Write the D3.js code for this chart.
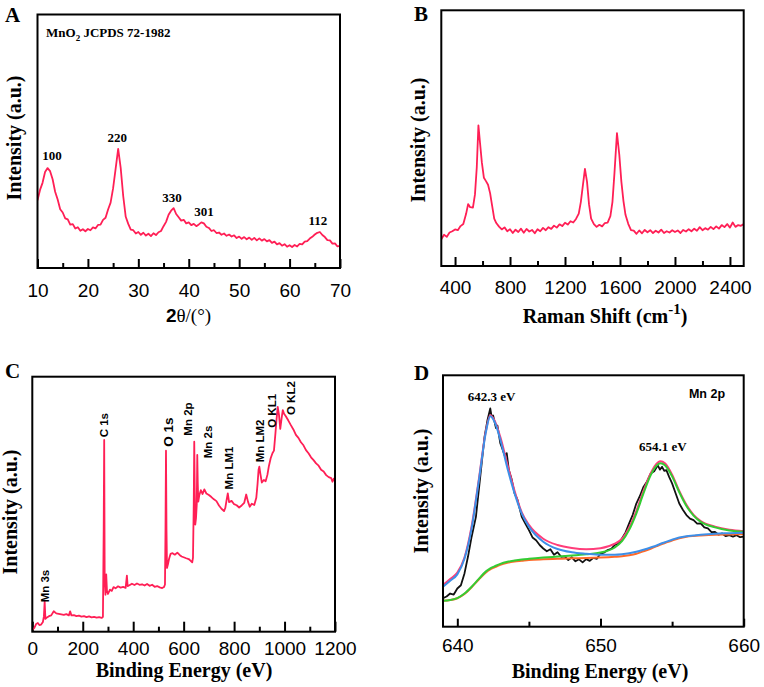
<!DOCTYPE html>
<html><head><meta charset="utf-8">
<script src="https://cdn.jsdelivr.net/npm/d3@7"></script>
<style>body{margin:0;background:#fff}svg{display:block}</style>
</head><body><svg id="c" width="764" height="687"></svg>
<script>
// ---------- Panel A: XRD ----------
const xrdAngle = [10,10.5,11,11.5,12,12.5,13,13.5,14,14.5,15,15.5,16,16.5,17,17.5,18,18.5,19,19.5,20,20.5,21,21.5,22,22.5,23,23.5,24,24.5,25,25.5,26,26.5,27,27.5,28,28.5,29,29.5,30,30.5,31,31.5,32,32.5,33,33.5,34,34.5,35,35.5,36,36.5,37,37.5,38,38.5,39,39.5,40,40.5,41,41.5,42,42.5,43,43.5,44,44.5,45,45.5,46,46.5,47,47.5,48,48.5,49,49.5,50,50.5,51,51.5,52,52.5,53,53.5,54,54.5,55,55.5,56,56.5,57,57.5,58,58.5,59,59.5,60,60.5,61,61.5,62,62.5,63,63.5,64,64.5,65,65.5,66,66.5,67,67.5,68,68.5,69,69.5,70];
const xrdIntensity = [26.7,30.8,33.6,37.9,39.4,38.2,35.0,30.1,27.0,23.2,21.9,19.6,19.2,17.1,17.3,15.6,16.1,14.7,15.3,14.5,15.4,14.9,16.0,15.6,17.0,17.1,19.0,19.8,23.1,25.8,31.5,39.2,47.0,39.5,28.4,20.2,17.4,15.1,14.9,13.6,14.2,13.1,13.9,12.8,13.5,12.6,13.7,13.0,14.1,14.6,16.5,18.2,21.0,22.6,23.6,21.3,20.0,18.7,19.0,17.6,18.0,16.9,17.4,16.5,17.2,18.0,17.6,16.3,15.8,14.6,14.9,13.8,14.0,13.1,13.6,12.7,13.2,12.4,12.9,11.8,12.4,11.5,12.2,11.3,12.0,11.1,11.9,10.9,11.7,10.8,11.4,10.5,11.0,9.9,10.4,9.3,9.8,8.8,9.4,8.4,9.0,8.3,9.1,8.5,9.5,9.3,10.4,10.6,11.6,12.3,13.2,13.9,14.2,13.0,12.2,11.0,10.9,9.6,9.7,8.5,8.7];
const xrdPeakNames = ["100","220","330","301","112"];
const xrdPeakAngle = [12.9,25.8,36.7,43.0,65.6];
const xrdPeakLevel = [44.2,51.3,28.0,22.1,18.9];
const xrdMajorTicks = [10,20,30,40,50,60,70];
const xrdMinorTicks = [15,25,35,45,55,65];

// ---------- Panel B: Raman ----------
const ramanShift = [300,320,340,360,380,400,420,440,460,480,495,510,530,545,558,570,582,595,610,625,640,655,670,685,700,720,740,760,780,800,820,840,860,880,900,920,940,960,980,1000,1020,1040,1060,1080,1100,1120,1140,1160,1180,1200,1220,1240,1260,1280,1300,1315,1330,1345,1360,1375,1390,1410,1430,1450,1470,1490,1510,1530,1545,1560,1578,1595,1610,1625,1640,1660,1680,1700,1720,1740,1760,1780,1800,1820,1840,1860,1880,1900,1920,1940,1960,1980,2000,2020,2040,2060,2080,2100,2120,2140,2160,2180,2200,2220,2240,2260,2280,2300,2320,2340,2360,2380,2400,2420,2440,2460,2480,2500];
const ramanIntensity = [10.5,12.2,11.4,13.1,13.6,14.3,14.0,15.6,16.4,20.3,24.2,23.0,22.8,28.0,38.5,55.0,48.0,40.5,34.5,33.2,31.8,28.5,23.5,18.5,16.8,15.4,14.3,15.1,13.6,14.4,12.9,14.2,13.3,14.6,13.0,14.5,13.5,14.1,12.8,14.4,13.6,14.9,14.0,15.2,14.5,15.8,15.0,16.3,15.6,16.9,16.2,17.5,17.0,18.4,20.5,25.0,31.5,38.0,33.0,24.0,18.5,16.4,15.3,16.1,15.5,16.8,17.0,19.5,25.0,36.5,52.0,43.5,33.0,25.5,20.0,16.5,14.0,13.8,12.6,13.9,12.8,14.1,13.2,14.0,12.9,13.8,13.1,14.2,12.9,13.6,13.1,14.0,13.3,13.9,12.9,14.1,13.5,14.4,13.6,14.6,13.8,15.2,14.0,14.8,14.2,15.3,14.4,15.5,14.6,16.0,15.2,16.4,15.0,17.0,15.3,16.0,15.7,16.4];
const ramanMajorTicks = [400,800,1200,1600,2000,2400];
const ramanMinorTicks = [600,1000,1400,1800,2200];

// ---------- Panel C: XPS survey ----------
const xpsEnergy = [0,8,15,22,28,35,42,46,49,52,58,66,75,85,95,105,115,125,135,145,150,155,165,175,185,195,205,215,225,235,245,255,265,275,280,283,285,287,290,293,296,300,308,315,322,330,340,350,360,370,375,378,385,395,405,415,425,435,445,455,465,475,485,495,505,515,522,526,528,530,532,534,538,542,548,556,565,575,585,592,600,610,620,628,634,637,640,642,644,646,649,652,654,656,658,662,668,675,682,690,700,710,720,730,740,750,760,765,770,775,780,790,800,810,820,830,840,848,855,862,870,880,888,893,897,900,904,910,918,925,932,938,945,952,958,964,968,973,978,983,988,993,998,1005,1015,1025,1035,1045,1055,1065,1075,1085,1095,1105,1115,1125,1135,1145,1155,1165,1175,1185,1190,1195,1200];
const xpsCounts = [0.7,1.5,3.0,3.4,2.6,2.8,3.8,6.0,11.8,5.0,5.6,6.1,6.4,8.0,7.2,7.0,6.8,6.6,6.9,6.4,8.0,6.4,6.5,6.1,6.3,5.9,6.1,5.7,6.0,5.6,5.8,5.5,5.7,5.4,5.8,40.0,75.2,20.0,14.5,22.5,16.0,14.8,16.5,16.0,17.5,17.0,17.8,17.3,17.6,17.2,22.0,17.9,18.2,18.8,18.3,18.9,18.4,18.6,18.1,18.7,18.0,18.4,17.6,17.9,17.4,17.1,17.5,18.5,40.0,71.0,40.0,25.0,26.5,28.5,30.5,30.8,30.2,31.0,30.0,29.5,29.2,28.8,28.5,27.8,27.2,29.0,50.0,74.5,55.0,42.0,44.5,50.0,69.3,58.0,51.0,53.5,55.5,54.0,55.8,54.2,53.6,52.8,51.9,51.2,49.5,48.2,47.3,48.5,51.5,54.2,50.8,51.3,50.0,49.6,48.7,49.5,50.5,53.8,51.0,49.0,50.2,49.7,52.5,58.0,63.5,64.7,62.0,58.5,59.5,59.0,61.5,65.0,68.0,70.0,71.0,78.0,83.0,88.2,85.0,79.5,83.5,86.9,85.5,84.5,82.8,81.0,79.3,77.2,76.0,74.3,73.1,71.2,70.0,68.4,67.3,66.0,65.1,63.5,62.8,61.4,60.6,60.2,58.8,60.0,59.0];
const xpsPeakNames = ["Mn 3s","C 1s","O 1s","Mn 2p","Mn 2s","Mn LM1","Mn LM2","O KL1","O KL2"];
const xpsPeakEnergy = [50,285,538,617,697,780,901,950,1025];
const xpsPeakLevel = [17.9,81.0,78.3,83.4,74.4,64.2,74.8,86.6,91.6];
const xpsMajorTicks = [0,200,400,600,800,1000,1200];
const xpsMinorTicks = [100,300,500,700,900,1100];

// ---------- Panel D: Mn 2p ----------
const mn2pEnergy = [639,639.25,639.5,639.75,640,640.25,640.5,640.75,641,641.3,641.6,641.9,642.1,642.3,642.4,642.5,642.7,642.8,643,643.1,643.3,643.45,643.6,643.8,644,644.2,644.5,644.75,645,645.25,645.5,645.75,646,646.25,646.5,646.75,647,647.25,647.5,647.75,648,648.25,648.5,648.75,649,649.25,649.5,649.75,650,650.25,650.5,650.75,651,651.25,651.5,651.75,652,652.25,652.5,652.75,653,653.25,653.5,653.75,654,654.15,654.3,654.45,654.6,654.8,655,655.25,655.5,655.75,656,656.25,656.5,656.75,657,657.25,657.5,657.75,658,658.25,658.5,658.75,659,659.25,659.5,659.75,660];
const mn2pCounts = [11.3,12.0,13.2,12.8,15.2,16.5,21.2,28.0,35.8,43.7,59.6,75.5,82.0,86.8,83.5,84.0,79.0,80.0,73.0,71.5,68.2,69.0,62.3,58.5,53.0,50.5,43.7,41.0,38.4,35.5,34.4,32.5,31.1,30.0,30.8,28.6,29.6,27.8,28.0,26.5,27.6,26.0,26.8,25.6,26.9,26.2,27.4,27.0,29.1,29.5,30.5,31.0,32.5,33.0,35.1,37.5,41.1,44.5,49.0,52.0,55.6,57.8,60.9,61.8,64.2,62.5,63.6,62.0,62.3,59.5,57.0,53.0,49.0,46.5,44.4,43.0,42.4,41.0,41.1,39.5,39.1,37.6,37.7,36.6,37.1,36.0,36.4,35.8,36.4,35.6,35.8];
const fitEnergy = [639,639.5,640,640.5,641,641.5,642,642.3,642.6,643,643.5,644,644.5,645,646,647,648,649,650,651,651.5,652,652.5,653,653.5,654,654.2,654.5,655,655.5,656,656.5,657,658,659,660];
const fitEnvelope = [16.6,19.0,21.5,27.5,40.0,58.5,78.0,84.1,82.0,75.5,64.5,54.0,45.5,40.5,35.0,32.5,31.3,30.8,31.2,33.0,35.0,39.5,46.0,54.0,61.0,65.3,65.8,65.0,60.5,54.0,48.5,44.5,42.0,39.8,38.6,38.0];
const fitPeak1 = [15.9,18.3,20.8,27.0,39.2,58.0,77.5,83.7,81.5,74.5,63.0,53.0,45.0,39.8,33.8,30.9,29.6,29.0,28.6,28.6,28.8,29.2,29.8,30.6,31.5,32.5,33.0,33.6,34.6,35.5,36.0,36.3,36.6,37.0,37.2,37.4];
const fitPeak2 = [10.3,10.6,11.4,13.2,15.9,19.0,22.0,23.2,24.0,25.0,25.8,26.3,26.7,27.0,27.5,27.9,28.3,28.8,29.5,31.5,34.0,38.5,45.0,53.0,60.2,64.5,65.0,64.2,59.8,53.5,48.0,44.2,41.7,39.5,38.3,37.8];
const fitBackground = [10.3,10.6,11.3,13.0,15.7,18.8,21.6,22.8,23.6,24.6,25.4,25.9,26.2,26.5,26.8,27.0,27.2,27.3,27.5,27.8,28.0,28.4,29.0,30.0,31.0,32.2,32.7,33.3,34.3,35.2,35.8,36.1,36.3,36.6,36.7,36.8];
const mn2pPeakNames = ["642.3 eV","654.1 eV"];
const mn2pPeakEnergy = [642.4,654.36];
const mn2pPeakLevel = [91.4,71.5];
const mn2pMajorTicks = [640,650,660];
const mn2pMinorTicks = [645,655];

// ---------- drawing ----------
const RED = "#ff1f55";
const SERIF = "'Liberation Serif','Times New Roman',serif";
const SANS = "'Liberation Sans',Arial,sans-serif";
const svg = d3.select("#c");

function makePanel(p) {
  const g = svg.append("g");
  const x = d3.scaleLinear().domain(p.xDomain).range([p.l, p.r]);
  const y = d3.scaleLinear().domain([0, 100]).range([p.b, p.t]);
  const clipId = "clip" + p.id;
  svg.append("clipPath").attr("id", clipId).append("rect")
    .attr("x", p.l).attr("y", p.t).attr("width", p.r - p.l).attr("height", p.b - p.t);

  const minor = g.append("g").attr("transform", `translate(0,${p.b})`)
    .call(d3.axisBottom(x).tickValues(p.minor).tickSize(-p.minorLen).tickFormat(""));
  minor.select(".domain").remove();
  minor.selectAll("line").attr("stroke", "#000").attr("stroke-width", 2);
  const major = g.append("g").attr("transform", `translate(0,${p.b})`)
    .call(d3.axisBottom(x).tickValues(p.major).tickSize(-p.majorLen).tickPadding(p.pad).tickFormat(d3.format("d")));
  major.select(".domain").remove();
  major.selectAll("line").attr("stroke", "#000").attr("stroke-width", 2);
  major.selectAll("text").attr("font-family", SANS).attr("font-size", p.tickFont)
    .attr("fill", "#000").attr("dy", "0.71em");

  const plot = g.append("g").attr("clip-path", `url(#${clipId})`);
  return { g, plot, x, y };
}

function frame(g, p) {
  g.append("rect").attr("x", p.l).attr("y", p.t).attr("width", p.r - p.l).attr("height", p.b - p.t)
    .attr("fill", "none").attr("stroke", "#000").attr("stroke-width", 2);
}

function letter(txt, xx, yy) {
  svg.append("text").attr("x", xx).attr("y", yy).text(txt)
    .attr("font-family", SERIF).attr("font-weight", "bold").attr("font-size", 21).attr("fill", "#000");
}

function yTitle(xx, yy) {
  svg.append("text").attr("transform", `translate(${xx},${yy}) rotate(-90)`)
    .attr("text-anchor", "middle").attr("font-family", SERIF).attr("font-weight", "bold")
    .attr("font-size", 20).attr("fill", "#000").text("Intensity (a.u.)");
}

function drawLine(plot, x, y, xs, ys, color, width, curve) {
  const pts = xs.map((d, i) => [d, ys[i]]);
  plot.append("path").datum(pts)
    .attr("d", d3.line().x(d => x(d[0])).y(d => y(d[1])).curve(curve || d3.curveLinear))
    .attr("fill", "none").attr("stroke", color).attr("stroke-width", width)
    .attr("stroke-linejoin", "round");
}

// Panel A
const pA = { id: "A", l: 37.5, r: 340, t: 14.5, b: 268, xDomain: [10, 70], major: xrdMajorTicks, minor: xrdMinorTicks, majorLen: 9, minorLen: 5, pad: 16, tickFont: 19 };
const A = makePanel(pA);
drawLine(A.plot, A.x, A.y, xrdAngle, xrdIntensity, RED, 1.8);
xrdPeakNames.forEach((n, i) => {
  A.g.append("text").attr("x", A.x(xrdPeakAngle[i])).attr("y", A.y(xrdPeakLevel[i]) + 4.5)
    .attr("text-anchor", "middle").attr("font-family", SERIF).attr("font-weight", "bold")
    .attr("font-size", 13).text(n);
});
const mno = A.g.append("text").attr("x", 46).attr("y", 37).attr("font-family", SERIF)
  .attr("font-weight", "bold").attr("font-size", 13);
mno.append("tspan").text("MnO");
mno.append("tspan").attr("font-size", 9).attr("dy", 4).text("2");
mno.append("tspan").attr("dy", -4).text(" JCPDS 72-1982");
frame(A.g, pA);
letter("A", 5, 22);
yTitle(21, 138);
const tA = svg.append("text").attr("x", 188.5).attr("y", 322).attr("text-anchor", "middle").attr("font-size", 19).attr("fill", "#000");
tA.append("tspan").attr("font-family", SANS).attr("font-weight", "bold").text("2");
tA.append("tspan").attr("font-family", SERIF).text("θ/(°)");

// Panel B
const pB = { id: "B", l: 441.3, r: 743.7, t: 10.3, b: 266, xDomain: [300, 2500], major: ramanMajorTicks, minor: ramanMinorTicks, majorLen: 9, minorLen: 5, pad: 15, tickFont: 19 };
const B = makePanel(pB);
drawLine(B.plot, B.x, B.y, ramanShift, ramanIntensity, RED, 1.8);
frame(B.g, pB);
letter("B", 414, 21);
yTitle(425, 140);
const tB = svg.append("text").attr("x", 605).attr("y", 323).attr("text-anchor", "middle")
  .attr("font-family", SERIF).attr("font-weight", "bold").attr("font-size", 20).attr("fill", "#000");
tB.append("tspan").text("Raman Shift (cm");
tB.append("tspan").attr("font-size", 15).attr("dy", -9).text("-1");
tB.append("tspan").attr("dy", 9).text(")");

// Panel C
const pC = { id: "C", l: 32.3, r: 335, t: 376.7, b: 631.7, xDomain: [0, 1200], major: xpsMajorTicks, minor: xpsMinorTicks, majorLen: 10, minorLen: 5, pad: 10, tickFont: 19 };
const C = makePanel(pC);
drawLine(C.plot, C.x, C.y, xpsEnergy, xpsCounts, RED, 1.8);
xpsPeakNames.forEach((n, i) => {
  const fs = n === "O 1s" ? 13.5 : 11.5;
  C.g.append("text")
    .attr("transform", `translate(${C.x(xpsPeakEnergy[i]) + fs * 0.36},${C.y(xpsPeakLevel[i])}) rotate(-90)`)
    .attr("text-anchor", "middle").attr("font-family", SANS).attr("font-weight", "bold")
    .attr("font-size", fs).text(n);
});
frame(C.g, pC);
letter("C", 5, 378);
yTitle(17, 512);
svg.append("text").attr("x", 184).attr("y", 677).attr("text-anchor", "middle")
  .attr("font-family", SERIF).attr("font-weight", "bold").attr("font-size", 20).text("Binding Energy (eV)");

// Panel D
const pD = { id: "D", l: 443, r: 743.7, t: 375.3, b: 626.7, xDomain: [639, 660], major: mn2pMajorTicks, minor: mn2pMinorTicks, majorLen: 8, minorLen: 5, pad: 12, tickFont: 19 };
const D = makePanel(pD);
drawLine(D.plot, D.x, D.y, mn2pEnergy, mn2pCounts, "#111", 1.8);
drawLine(D.plot, D.x, D.y, fitEnergy, fitEnvelope, "#ff3d7a", 2, d3.curveMonotoneX);
drawLine(D.plot, D.x, D.y, fitEnergy, fitBackground, "#ff6a2a", 2, d3.curveMonotoneX);
drawLine(D.plot, D.x, D.y, fitEnergy, fitPeak2, "#33cc33", 2, d3.curveMonotoneX);
drawLine(D.plot, D.x, D.y, fitEnergy, fitPeak1, "#3d8fe8", 2, d3.curveMonotoneX);
mn2pPeakNames.forEach((n, i) => {
  D.g.append("text").attr("x", D.x(mn2pPeakEnergy[i])).attr("y", D.y(mn2pPeakLevel[i]) + 4.5)
    .attr("text-anchor", "middle").attr("font-family", SERIF).attr("font-weight", "bold")
    .attr("font-size", 13).text(n);
});
D.g.append("text").attr("x", 707).attr("y", 397.5).attr("text-anchor", "middle").attr("font-family", SANS)
  .attr("font-weight", "bold").attr("font-size", 12.5).text("Mn 2p");
frame(D.g, pD);
letter("D", 414, 380);
yTitle(428, 491);
svg.append("text").attr("x", 600).attr("y", 678).attr("text-anchor", "middle")
  .attr("font-family", SERIF).attr("font-weight", "bold").attr("font-size", 20).text("Binding Energy (eV)");
</script>
</body></html>
